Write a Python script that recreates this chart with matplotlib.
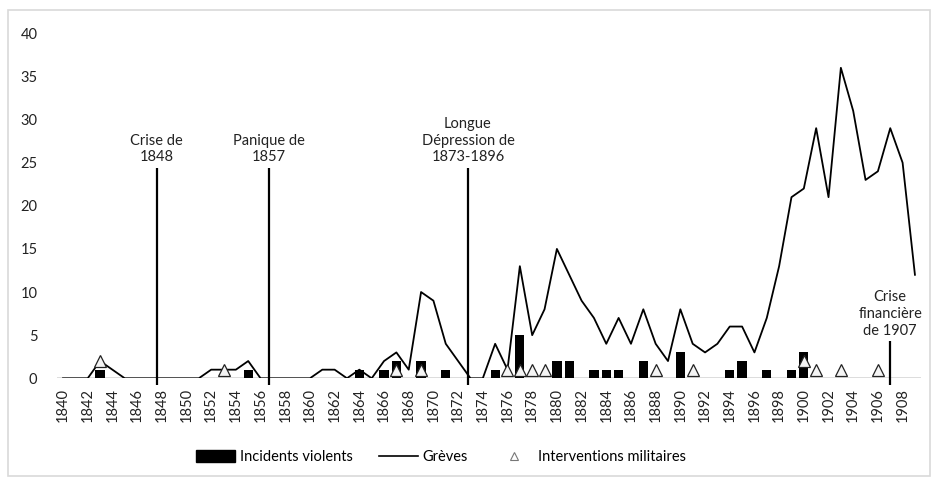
import matplotlib
matplotlib.use("Agg")
import numpy as np
import matplotlib.pyplot as plt
from matplotlib.patches import Patch, Rectangle
from matplotlib.lines import Line2D

plt.rcParams['font.family'] = ['Lato', 'DejaVu Sans']

years = list(range(1840, 1910))

# Grèves (strikes) per year, 1840-1909
greves = [0, 0, 0, 2, 1, 0, 0, 0, 0, 0,
          0, 0, 1, 1, 1, 2, 0, 0, 0, 0,
          0, 1, 1, 0, 1, 0, 2, 3, 1, 10,
          9, 4, 2, 0, 0, 4, 1, 13, 5, 8,
          15, 12, 9, 7, 4, 7, 4, 8, 4, 2,
          8, 4, 3, 4, 6, 6, 3, 7, 13, 21,
          22, 29, 21, 36, 31, 23, 24, 29, 25, 12]

# Incidents violents
incident_years = [1843, 1855, 1864, 1866, 1867, 1869, 1871, 1875, 1877, 1880,
                  1881, 1883, 1884, 1885, 1887, 1890, 1894, 1895, 1897, 1899, 1900]
incident_vals = [1, 1, 1, 1, 2, 2, 1, 1, 5, 2,
                 2, 1, 1, 1, 2, 3, 1, 2, 1, 1, 3]

# Interventions militaires
interv_years = [1843, 1853, 1867, 1869, 1876, 1877, 1878, 1879, 1888, 1891,
                1900, 1901, 1903, 1906]
interv_vals = [2, 1, 1, 1, 1, 1, 1, 1, 1, 1, 2, 1, 1, 1]

# crisis markers
event_labels = ["Crise de\n1848", "Panique de\n1857",
                "Longue\nDépression de\n1873-1896", "Crise\nfinancière\nde 1907"]
event_x = [1847.6, 1856.7, 1872.8, 1907.0]
event_top = [24.4, 24.4, 24.4, 4.3]
event_bottom = -0.8

fig = plt.figure(figsize=(9.38, 4.84), dpi=100)
ax = fig.add_axes([0.0606, 0.2184, 0.9214, 0.7128])

ax.axhline(0, color='#d9d9d9', lw=2, zorder=0)
ax.bar(incident_years, incident_vals, width=0.75, color='black', zorder=2)
ax.plot(years, greves, color='black', lw=1.3, zorder=3)
ax.plot(interv_years, interv_vals, linestyle='none', marker='^', markersize=8,
        markerfacecolor='#f4f4f4', markeredgecolor='#222222', markeredgewidth=0.9, zorder=4)

ax.vlines(event_x, event_bottom, event_top, color='black', lw=1.6, zorder=5, clip_on=False)
for x, top, lab in zip(event_x, event_top, event_labels):
    ax.text(x, top + 0.4, lab, ha='center', va='bottom', fontsize=10.5,
            linespacing=1.25, color='#222222')

ax.set_xlim(1839.5, 1909.5)
ax.set_ylim(0, 40)
ax.set_yticks(range(0, 41, 5))
ax.set_xticks(range(1840, 1909, 2))
ax.set_xticklabels([str(y) for y in range(1840, 1909, 2)], rotation=90)
ax.tick_params(axis='both', length=0, labelsize=10.5, colors='#222222')
ax.tick_params(axis='y', pad=14)
ax.tick_params(axis='x', pad=7)
for s in ax.spines.values():
    s.set_visible(False)

handles = [Patch(facecolor='black', edgecolor='black'),
           Line2D([0], [0], color='black', lw=1.2),
           Line2D([0], [0], linestyle='none', marker='^', markersize=6,
                  markerfacecolor='white', markeredgecolor='#777777', markeredgewidth=0.8)]
labels = ["Incidents violents", "Grèves", "Interventions militaires"]
fig.legend(handles, labels, loc='center', bbox_to_anchor=(441 / 938, 1 - 457 / 484), ncol=3,
           frameon=False, fontsize=10.5, handlelength=2.7, handleheight=0.8,
           handletextpad=0.3, columnspacing=1.8)

fig.patches.append(Rectangle((8 / 938, 1 - 476 / 484), 922 / 938, 466 / 484,
                             transform=fig.transFigure, fill=False,
                             edgecolor='#d9d9d9', lw=1.2))

fig.savefig('out.png', dpi=100)
